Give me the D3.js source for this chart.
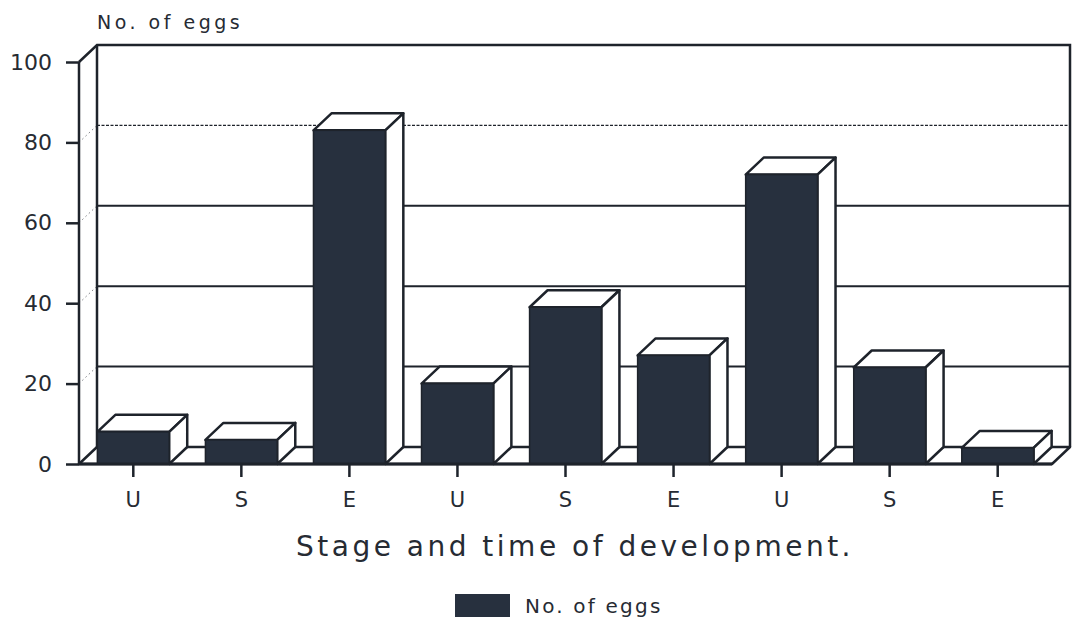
<!DOCTYPE html>
<html>
<head>
<meta charset="utf-8">
<script src="https://cdn.jsdelivr.net/npm/d3@7"></script>
<style>
  html, body { margin: 0; padding: 0; background: #fff; }
  svg { display: block; }
  text { font-family: "DejaVu Sans", "Liberation Sans", sans-serif; fill: #262b33; }
</style>
</head>
<body>
<svg id="chart" width="1072" height="625"></svg>
<script>
// Egg counts per developmental stage (three time blocks of U / S / E)
const categories = ["U", "S", "E", "U", "S", "E", "U", "S", "E"];
const eggs = [8, 6, 83, 20, 39, 27, 72, 24, 4];
const yTicks = [0, 20, 40, 60, 80, 100];
const seriesName = "No. of eggs";
const xTitle = "Stage and time of development.";

const W = 1072, H = 625;
const frontLeft = 79, frontRight = 1052;   // front edge of the floor
const depth = { dx: 18, dy: -17 };          // oblique offset of the back wall
const ink = "#1e232b";
const barFill = "#27303e";

const svg = d3.select("#chart");

const x = d3.scaleBand()
  .domain(d3.range(categories.length))
  .range([frontLeft, frontRight])
  .paddingInner(0.335)
  .paddingOuter(0.17);

const y = d3.scaleLinear().domain([0, 100]).range([464, 62]);

const backLeft = frontLeft + depth.dx;
const backRight = frontRight + depth.dx;

// Back wall frame
const wall = svg.append("g").attr("fill", "none").attr("stroke", ink).attr("stroke-width", 2.5);
wall.append("path")
  .attr("d", d3.line()([
    [frontLeft, y(100)], [backLeft, y(100) + depth.dy], [backRight, y(100) + depth.dy],
    [backRight, y(0) + depth.dy]
  ]));
wall.append("line")
  .attr("x1", backLeft).attr("x2", backLeft)
  .attr("y1", y(100) + depth.dy).attr("y2", y(0) + depth.dy);

// Gridlines on the back wall, dotted connectors on the side wall
const grid = svg.append("g");
yTicks.filter(v => v > 0 && v < 100).forEach(v => {
  grid.append("line")
    .attr("x1", backLeft).attr("x2", backRight)
    .attr("y1", y(v) + depth.dy).attr("y2", y(v) + depth.dy)
    .attr("stroke", ink)
    .attr("stroke-width", v === 80 ? 1.2 : 2)
    .attr("stroke-dasharray", v === 80 ? "3,1.5" : null);
  grid.append("line")
    .attr("x1", frontLeft).attr("x2", backLeft)
    .attr("y1", y(v)).attr("y2", y(v) + depth.dy)
    .attr("stroke", ink).attr("stroke-width", 1)
    .attr("stroke-dasharray", "1.5,3").attr("opacity", 0.6);
});

// Floor
svg.append("path")
  .attr("d", d3.line()([
    [frontLeft, y(0)], [backLeft, y(0) + depth.dy], [backRight, y(0) + depth.dy],
    [frontRight, y(0)]
  ]) + "Z")
  .attr("fill", "#fff").attr("stroke", ink).attr("stroke-width", 2.5)
  .attr("stroke-linejoin", "round");

// 3D bars
const bars = svg.append("g").selectAll("g.bar")
  .data(eggs)
  .join("g").attr("class", "bar");

bars.each(function (v, i) {
  const g = d3.select(this);
  const x0 = x(i), x1 = x(i) + x.bandwidth();
  const yt = y(v), yb = y(0);
  const { dx, dy } = depth;
  g.append("path") // top face
    .attr("d", d3.line()([[x0, yt], [x0 + dx, yt + dy], [x1 + dx, yt + dy], [x1, yt]]) + "Z")
    .attr("fill", "#fff").attr("stroke", ink).attr("stroke-width", 2.5).attr("stroke-linejoin", "round");
  g.append("path") // side face
    .attr("d", d3.line()([[x1, yt], [x1 + dx, yt + dy], [x1 + dx, yb + dy], [x1, yb]]) + "Z")
    .attr("fill", "#fff").attr("stroke", ink).attr("stroke-width", 2.5).attr("stroke-linejoin", "round");
  g.append("rect") // front face
    .attr("x", x0).attr("y", yt)
    .attr("width", x1 - x0).attr("height", yb - yt)
    .attr("fill", barFill).attr("stroke", ink).attr("stroke-width", 1.5);
});

// Front axis lines
svg.append("line")
  .attr("x1", frontLeft).attr("x2", frontLeft)
  .attr("y1", y(100)).attr("y2", y(0))
  .attr("stroke", ink).attr("stroke-width", 2.5);
svg.append("line")
  .attr("x1", frontLeft).attr("x2", frontRight)
  .attr("y1", y(0)).attr("y2", y(0))
  .attr("stroke", ink).attr("stroke-width", 3);

// Y axis
const yAxis = svg.append("g")
  .attr("transform", `translate(${frontLeft},0)`)
  .call(d3.axisLeft(y).tickValues(yTicks).tickSize(13).tickPadding(14));
yAxis.select(".domain").remove();
yAxis.selectAll(".tick line").attr("stroke", ink).attr("stroke-width", 2.5);
yAxis.selectAll(".tick text")
  .attr("font-size", 22).attr("fill", "#262b33")
  .attr("font-family", "DejaVu Sans, sans-serif");

// X axis
const xAxis = svg.append("g")
  .attr("transform", `translate(0,${y(0)})`)
  .call(d3.axisBottom(x).tickFormat(i => categories[i]).tickSize(13).tickPadding(15));
xAxis.select(".domain").remove();
xAxis.selectAll(".tick line").attr("stroke", ink).attr("stroke-width", 2.5);
xAxis.selectAll(".tick text")
  .attr("font-size", 21).attr("fill", "#262b33")
  .attr("font-family", "DejaVu Sans, sans-serif");

// Titles
svg.append("text")
  .attr("x", 97).attr("y", 29)
  .attr("font-size", 19).attr("letter-spacing", 3.5)
  .text(seriesName);

svg.append("text")
  .attr("x", 575).attr("y", 556)
  .attr("text-anchor", "middle")
  .attr("font-size", 28).attr("letter-spacing", 3.5)
  .text(xTitle);

// Legend
const legend = svg.append("g").attr("transform", "translate(455,594)");
legend.append("rect").attr("width", 55).attr("height", 23).attr("fill", barFill);
legend.append("text")
  .attr("x", 70).attr("y", 19)
  .attr("font-size", 20).attr("letter-spacing", 2.2)
  .text(seriesName);
</script>
</body>
</html>
